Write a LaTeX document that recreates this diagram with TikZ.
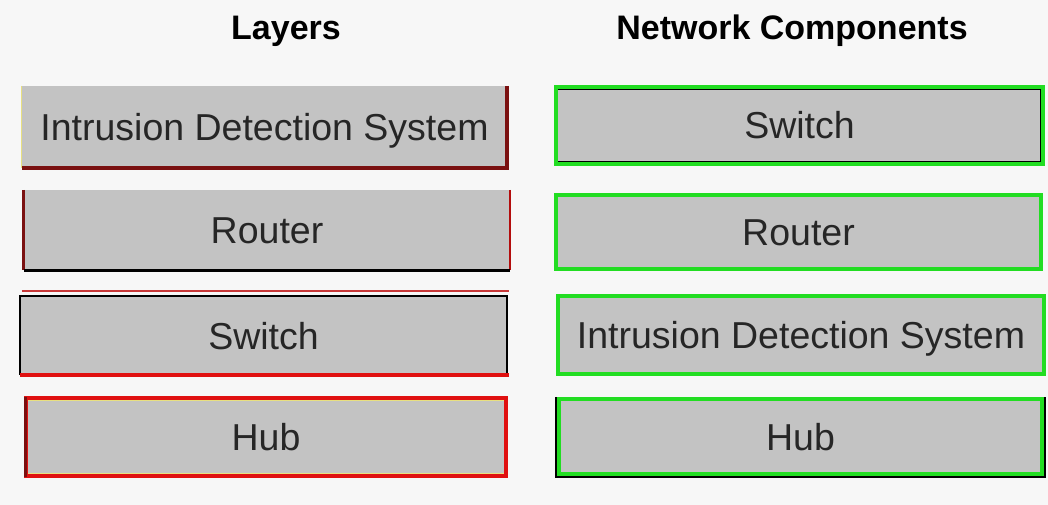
\documentclass[tikz,border=0pt]{standalone}
\usepackage{fontspec}
\setmainfont{Liberation Sans}
\begin{document}
\begin{tikzpicture}[x=1pt,y=-1pt,
  boxtext/.style={fill=boxgray, inner sep=0pt, text height=27pt, text depth=0pt, font=\fontsize{37.5}{40}\selectfont, text=black!85},
  header/.style={inner sep=0pt, font=\fontsize{34}{38}\selectfont\bfseries},
  greenedge/.style={draw=edgegreen, line width=4pt}]
\definecolor{bg}{HTML}{F7F7F7}
\definecolor{boxgray}{HTML}{C3C3C3}
\definecolor{darkred}{HTML}{7A1010}
\definecolor{brightred}{HTML}{E01010}
\definecolor{midred}{HTML}{C83838}
\definecolor{edgegreen}{HTML}{22DD22}
\definecolor{paleyellow}{HTML}{E8E080}
\useasboundingbox (0,0) rectangle (1048,505);
\fill[bg] (0,0) rectangle (1048,505);
% headers
\node[header] (hl) at (286,31) {Layers};
\node[header] (hn) at (792,31) {Network Components};
% left column
\node[boxtext, minimum width=485pt, minimum height=82pt] (lids) at (264.5,127) {Intrusion Detection System};
\node[boxtext, minimum width=486pt, minimum height=80pt] (lrt) at (267,230) {Router};
\node[boxtext, minimum width=487pt, minimum height=79pt] (lsw) at (263.5,335.5) {Switch};
\node[boxtext, minimum width=484pt, minimum height=82pt] (lhub) at (266,437) {Hub};
% right column
\node[boxtext, minimum width=491pt, minimum height=81pt] (rsw) at (799.5,125.5) {Switch};
\node[boxtext, minimum width=489pt, minimum height=78pt] (rrt) at (798.5,232) {Router};
\node[boxtext, minimum width=490pt, minimum height=82pt] (rids) at (801,335) {Intrusion Detection System};
\node[boxtext, minimum width=489pt, minimum height=80pt] (rhub) at (800.5,437) {Hub};
% left IDS edges
\draw[paleyellow, line width=1pt] (lids.north west) -- (lids.south west);
\draw[darkred, line width=3.5pt] (lids.north east) -- (lids.south east) -- (lids.south west);
% left Router edges
\draw[darkred, line width=3pt] (lrt.north west) -- (lrt.south west);
\draw[brightred!80!black, line width=1.5pt] (lrt.north east) -- (lrt.south east);
\draw[black, line width=3pt] (lrt.south west) -- (lrt.south east);
% left Switch edges
\draw[midred, line width=2pt] ([yshift=4.5pt,xshift=2pt]lsw.north west) -- ([yshift=4.5pt,xshift=2pt]lsw.north east);
\draw[black, line width=2pt] (lsw.south west) -- (lsw.north west) -- (lsw.north east) -- (lsw.south east);
\draw[brightred, line width=3.5pt] (lsw.south west) -- ([xshift=2pt]lsw.south east);
% left Hub edges
\draw[brightred, line width=4pt] ([shift={(2pt,2pt)}]lhub.south west) rectangle ([shift={(-2pt,-2pt)}]lhub.north east);
\draw[darkred, line width=3pt] ([shift={(1.5pt,1pt)}]lhub.south west) -- ([shift={(1.5pt,-1pt)}]lhub.north west);
\draw[paleyellow, line width=1pt] ([shift={(4pt,-4.5pt)}]lhub.north west) -- ([shift={(-4pt,-4.5pt)}]lhub.north east);
\draw[paleyellow, line width=1pt] ([shift={(4pt,4.5pt)}]lhub.south west) -- ([shift={(-4pt,4.5pt)}]lhub.south east);
% right column edges
\draw[greenedge] ([shift={(2pt,2pt)}]rsw.south west) rectangle ([shift={(-2pt,-2pt)}]rsw.north east);
\draw[black, line width=1.5pt] ([shift={(4pt,-4.5pt)}]rsw.north west) -- ([shift={(-4.5pt,-4.5pt)}]rsw.north east) -- ([shift={(-4.5pt,4.5pt)}]rsw.south east) -- ([shift={(4pt,4.5pt)}]rsw.south west);
\draw[greenedge] ([shift={(2pt,2pt)}]rrt.south west) rectangle ([shift={(-2pt,-2pt)}]rrt.north east);
\draw[greenedge] ([shift={(2pt,2pt)}]rids.south west) rectangle ([shift={(-2pt,-2pt)}]rids.north east);
\draw[black, line width=1.5pt] (rhub.north west) -- (rhub.south west) -- (rhub.south east) -- (rhub.north east);
\draw[greenedge] ([shift={(3.5pt,3.5pt)}]rhub.south west) rectangle ([shift={(-3.5pt,-2pt)}]rhub.north east);
\end{tikzpicture}
\end{document}
